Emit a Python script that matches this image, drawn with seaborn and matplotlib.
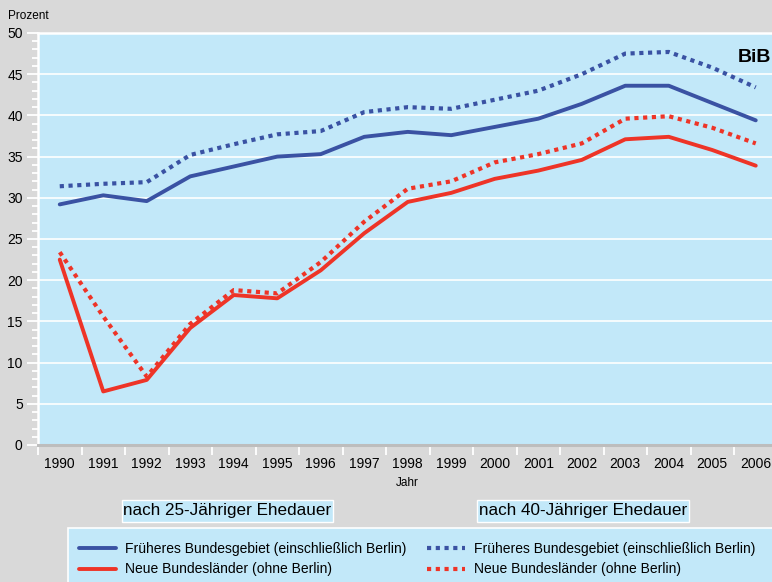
# Scheidungsquote nach Ehedauer, alte/neue Bundeslaender 1990-2006
import seaborn as sns
import matplotlib.pyplot as plt
import pandas as pd
from matplotlib.lines import Line2D
from matplotlib.patches import Rectangle
from matplotlib.ticker import MultipleLocator

years = list(range(1990, 2007))

west_25 = [29.2, 30.3, 29.6, 32.6, 33.8, 35.0, 35.3, 37.4, 38.0, 37.6,
           38.6, 39.6, 41.4, 43.6, 43.6, 41.5, 39.4]
east_25 = [22.5, 6.5, 7.9, 14.2, 18.2, 17.8, 21.2, 25.7, 29.5, 30.6,
           32.3, 33.3, 34.6, 37.1, 37.4, 35.8, 33.9]
west_40 = [31.4, 31.7, 31.9, 35.2, 36.5, 37.7, 38.1, 40.4, 41.0, 40.8,
           41.9, 43.0, 45.0, 47.5, 47.7, 45.8, 43.4]
east_40 = [23.4, 15.6, 8.3, 14.7, 18.8, 18.4, 22.2, 27.1, 31.1, 32.0,
           34.3, 35.3, 36.6, 39.6, 39.9, 38.5, 36.6]

label_west = 'Früheres Bundesgebiet (einschließlich Berlin)'
label_east = 'Neue Bundesländer (ohne Berlin)'

df = pd.DataFrame({'Jahr': years, 'west_25': west_25, 'east_25': east_25,
                   'west_40': west_40, 'east_40': east_40})

sns.set_style("white")
plt.rcParams['font.family'] = ['Liberation Sans', 'DejaVu Sans']
plt.rcParams['text.color'] = 'black'
plt.rcParams['axes.labelcolor'] = 'black'

blue = '#3a52a3'
red = '#ee3427'
bg = '#d9d9d9'
panel = '#c2e8f9'
dot = (0, (1, 1.1))

W, H = 772, 582
fig = plt.figure(figsize=(W / 100, H / 100), dpi=100, facecolor=bg)
ax = fig.add_axes([38 / W, 1 - 445 / H, 739.5 / W, (445 - 33) / H])
ax.set_facecolor(panel)

sns.lineplot(data=df, x='Jahr', y='west_25', color=blue, lw=2.8, ax=ax)
sns.lineplot(data=df, x='Jahr', y='east_25', color=red, lw=2.8, ax=ax)
sns.lineplot(data=df, x='Jahr', y='west_40', color=blue, lw=3.0,
             linestyle=dot, ax=ax)
sns.lineplot(data=df, x='Jahr', y='east_40', color=red, lw=3.0,
             linestyle=dot, ax=ax)

ax.set_xlim(1989.5, 2006.5)
ax.set_ylim(0, 50)
ax.set_xticks(years)
ax.set_xticklabels([str(y) for y in years], fontsize=10)
ax.xaxis.set_minor_locator(MultipleLocator(1, offset=0.5))
ax.yaxis.set_major_locator(MultipleLocator(5))
ax.yaxis.set_minor_locator(MultipleLocator(1))
ax.tick_params(axis='x', which='major', length=0, pad=9, labelcolor='black')
ax.tick_params(axis='x', which='minor', length=7, width=1.3, color='white',
               direction='out')
ax.tick_params(axis='y', which='major', length=8, width=1.3, color='white',
               labelsize=10, pad=3, labelcolor='black')
ax.tick_params(axis='y', which='minor', length=4, width=1.3, color='white')
ax.tick_params(bottom=True, left=True, which='both')

ax.grid(axis='y', color='white', lw=1.2)
ax.set_axisbelow(True)
for s in ['left', 'top']:
    ax.spines[s].set_color('white')
    ax.spines[s].set_linewidth(1.8)
ax.spines['right'].set_visible(False)
ax.spines['bottom'].set_color('#bdbdbd')
ax.spines['bottom'].set_linewidth(2.2)

ax.set_xlabel('Jahr', fontsize=8.5, labelpad=4)
ax.set_ylabel('')
fig.text(8 / W, 1 - 16 / H, 'Prozent', fontsize=8.5, va='center', ha='left')
ax.text(0.946, 0.96, 'BiB', transform=ax.transAxes, fontsize=14,
        fontweight='bold', va='top', ha='left')

# Untertitel-Kaesten
for x0, x1, txt in [(122, 333, 'nach 25-Jähriger Ehedauer'),
                    (477, 689, 'nach 40-Jähriger Ehedauer')]:
    fig.patches.append(Rectangle((x0 / W, 1 - 522 / H), (x1 - x0) / W,
                                 22 / H, transform=fig.transFigure,
                                 facecolor=panel, edgecolor='white', lw=1))
    fig.text((x0 + x1) / 2 / W, 1 - 511 / H, txt, fontsize=12.3,
             ha='center', va='center')

# Legende
fig.patches.append(Rectangle((68 / W, -0.01), 1, (582 - 528) / H + 0.01,
                             transform=fig.transFigure, facecolor=panel,
                             edgecolor='white', lw=1.2))
handles = [Line2D([], [], color=blue, lw=2.8),
           Line2D([], [], color=red, lw=2.8),
           Line2D([], [], color=blue, lw=3.0, linestyle=dot),
           Line2D([], [], color=red, lw=3.0, linestyle=dot)]
labels = [label_west, label_east, label_west, label_east]
fig.legend(handles, labels, ncol=2, frameon=False, fontsize=10,
           loc='lower left', bbox_to_anchor=(66 / W, -0.012),
           handlelength=2.7, handletextpad=0.65, columnspacing=1.5,
           labelspacing=0.45)

plt.savefig('out.png', dpi=100, facecolor=bg)
